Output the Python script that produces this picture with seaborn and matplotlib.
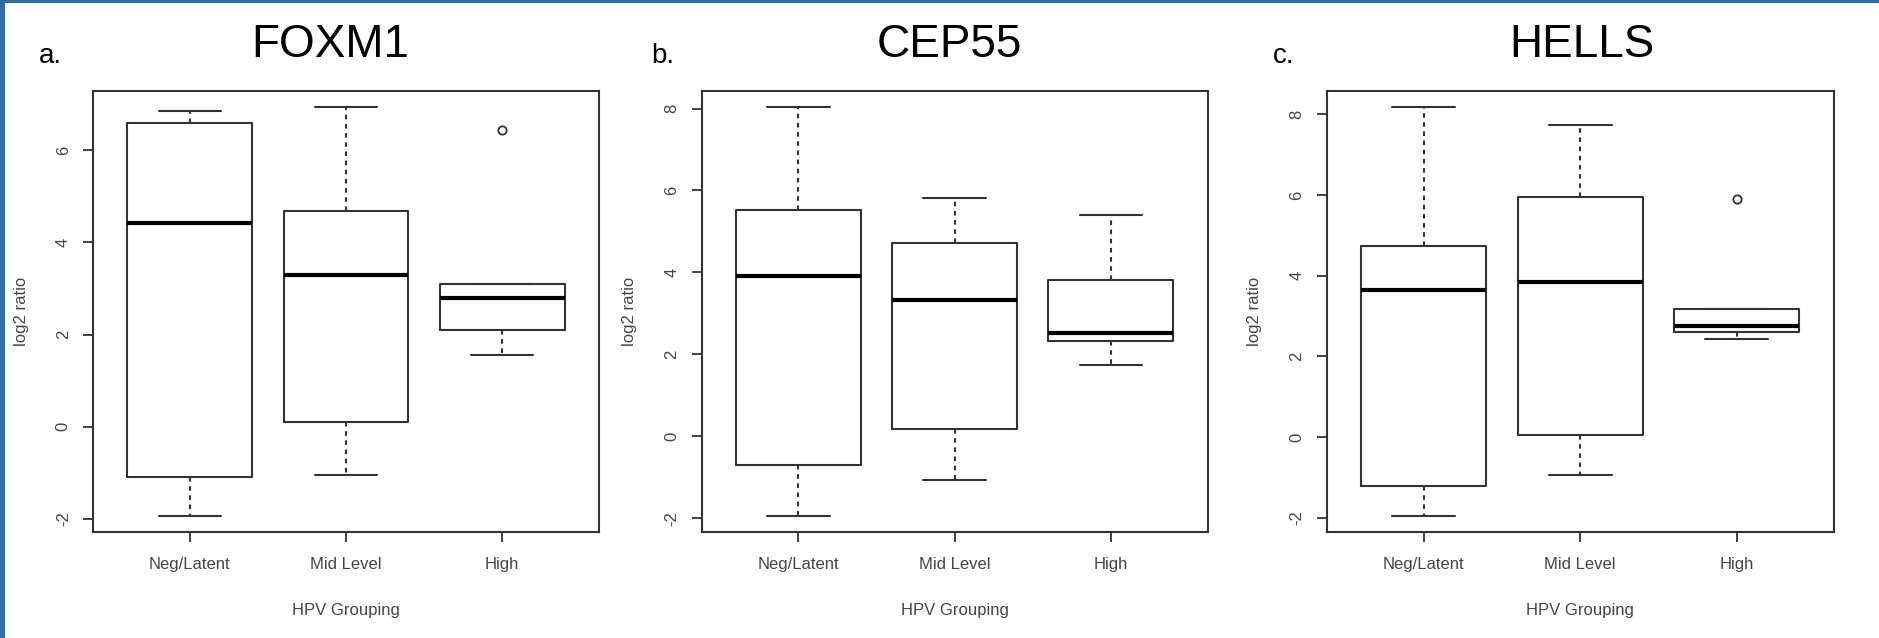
import numpy as np
import pandas as pd
import matplotlib
matplotlib.use("Agg")
import matplotlib.pyplot as plt
from matplotlib.patches import Rectangle
from matplotlib.ticker import MultipleLocator
import seaborn as sns

# HPV groups on the x axis
groups = ["Neg/Latent", "Mid Level", "High"]
genes = ["FOXM1", "CEP55", "HELLS"]
panel_letters = ["a.", "b.", "c."]

# log2 ratio observations per gene and HPV group
foxm1_neg = [-1.93, -1.09, 4.43, 6.60, 6.86]
foxm1_mid = [-1.04, 0.11, 3.29, 4.69, 6.94]
foxm1_high = [1.55, 2.10, 2.80, 3.09, 6.45]

cep55_neg = [-1.94, -0.70, 3.90, 5.53, 8.04]
cep55_mid = [-1.07, 0.18, 3.33, 4.73, 5.81]
cep55_high = [1.73, 2.32, 2.53, 3.81, 5.41]

hells_neg = [-1.95, -1.21, 3.64, 4.74, 8.18]
hells_mid = [-0.94, 0.06, 3.85, 5.96, 7.74]
hells_high = [2.43, 2.60, 2.74, 3.16, 5.90]

gene_values = [
    [foxm1_neg, foxm1_mid, foxm1_high],
    [cep55_neg, cep55_mid, cep55_high],
    [hells_neg, hells_mid, hells_high],
]

sns.set_style("white")
plt.rcParams["font.family"] = ["Liberation Sans", "DejaVu Sans"]
plt.rcParams["axes.unicode_minus"] = False

W, H = 1879, 638
fig = plt.figure(figsize=(W / 100, H / 100), dpi=100)

LINE = "#333333"
TEXT = "#454545"

# panel geometry in pixels
axes_x = [(93, 599), (701.6, 1207.8), (1326.5, 1833.9)]
axes_top, axes_bot = 90.6, 532
title_cx = [330, 949, 1582]
letter_x = [39, 651, 1273]

for i, gene in enumerate(genes):
    x0, x1 = axes_x[i]
    ax = fig.add_axes([x0 / W, 1 - axes_bot / H, (x1 - x0) / W, (axes_bot - axes_top) / H])

    vals = gene_values[i]
    df = pd.DataFrame({
        "group": np.repeat(groups, [len(v) for v in vals]),
        "log2": np.concatenate(vals),
    })

    sns.boxplot(
        data=df, x="group", y="log2", order=groups, ax=ax,
        width=0.8, fill=False, color=LINE, linecolor=LINE, linewidth=1.5, whis=1.5,
        whiskerprops={"linestyle": (0, (2.2, 2.2))},
        medianprops={"linewidth": 3.0, "color": "black"},
        flierprops={"marker": "o", "markersize": 6, "markerfacecolor": "none",
                    "markeredgecolor": LINE, "markeredgewidth": 1.3},
    )

    # R-style axis range: 4% padding on both ends
    lo, hi = df["log2"].min(), df["log2"].max()
    pad = 0.04 * (hi - lo)
    ax.set_ylim(lo - pad, hi + pad)
    ax.set_xlim(-0.62, 2.62)
    ax.yaxis.set_major_locator(MultipleLocator(2))

    for sp in ax.spines.values():
        sp.set_visible(True)
        sp.set_color(LINE)
        sp.set_linewidth(1.5)

    ax.tick_params(axis="both", direction="out", length=7, width=1.3, color=LINE,
                   labelsize=12, labelcolor=TEXT, bottom=True, left=True)
    ax.tick_params(axis="x", pad=11)
    ax.tick_params(axis="y", pad=9)
    for lab in ax.get_yticklabels():
        lab.set_rotation(90)
        lab.set_va("center")

    ax.set_xlabel("HPV Grouping", fontsize=12, color=TEXT, va="center")
    ax.xaxis.set_label_coords(0.5, -0.177)
    ax.set_ylabel("log2 ratio", fontsize=12, color=TEXT, va="center")
    ax.yaxis.set_label_coords(-0.142, 0.5)

    fig.text(title_cx[i] / W, 1 - 57 / H, gene, fontsize=33, ha="center",
             va="baseline", color="black")
    fig.text(letter_x[i] / W, 1 - 63 / H, panel_letters[i], fontsize=20,
             ha="left", va="baseline", color="black")

# slide frame on the left and top edges
fig.add_artist(Rectangle((0, 0), 4.5 / W, 1, transform=fig.transFigure,
                         color="#376a9d", lw=0, zorder=10))
fig.add_artist(Rectangle((0, 1 - 2.5 / H), 1, 2.5 / H, transform=fig.transFigure,
                         color="#376a9d", lw=0, zorder=10))

fig.savefig("out.png", dpi=100, facecolor="white")
